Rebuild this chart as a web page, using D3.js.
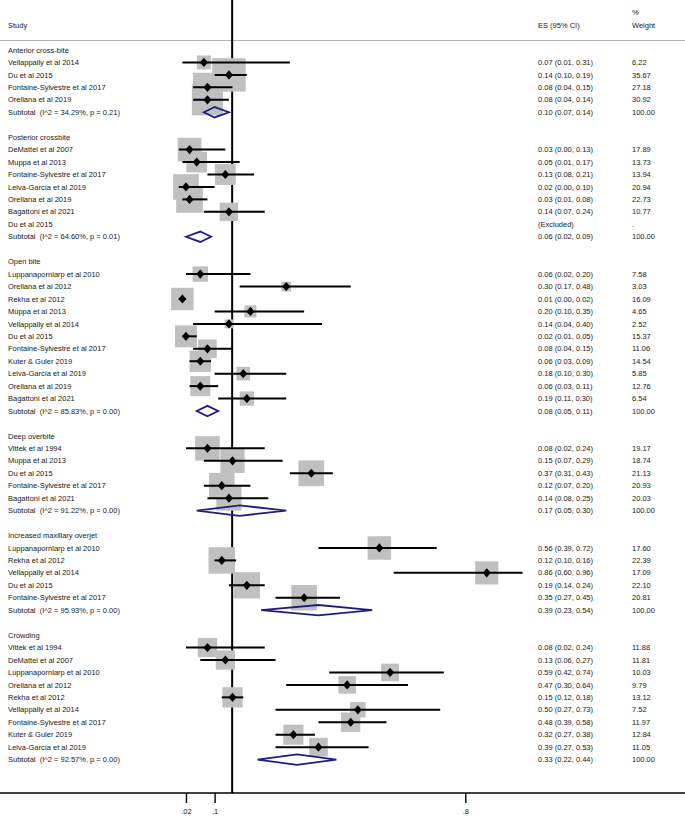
<!DOCTYPE html>
<html>
<head>
<meta charset="utf-8">
<script src="https://cdn.jsdelivr.net/npm/d3@7/dist/d3.min.js"></script>
<style>
  html, body { margin: 0; padding: 0; background: #fff; }
  svg { display: block; }
  text { font-family: "Liberation Sans", Arial, Helvetica, sans-serif; font-size: 7.5px; fill: #1a1a1a; }
</style>
</head>
<body>
<svg id="chart" width="685" height="817"></svg>
<script>
// ---------- DATA ----------
const groups = ["Anterior cross-bite", "Posterior crossbite", "Open bite", "Deep overbite", "Increased maxillary overjet", "Crowding"];

const studies = [
  "Vellappally et al 2014", "Du et al 2015", "Fontaine-Sylvestre et al 2017", "Orellana et al 2019",
  "DeMattei et al 2007", "Muppa et al 2013", "Fontaine-Sylvestre et al 2017", "Leiva-García et al 2019", "Orellana et al 2019", "Bagattoni et al 2021", "Du et al 2015",
  "Luppanapornlarp et al 2010", "Orellana et al 2012", "Rekha et al 2012", "Muppa et al 2013", "Vellappally et al 2014", "Du et al 2015", "Fontaine-Sylvestre et al 2017", "Kuter & Guler  2019", "Leiva-García et al 2019", "Orellana et al 2019", "Bagattoni et al 2021",
  "Vittek et al 1994", "Muppa et al 2013", "Du et al 2015", "Fontaine-Sylvestre et al 2017", "Bagattoni et al 2021",
  "Luppanapornlarp et al 2010", "Rekha et al 2012", "Vellappally et al 2014", "Du et al 2015", "Fontaine-Sylvestre et al 2017",
  "Vittek et al 1994", "DeMattei et al 2007", "Luppanapornlarp et al 2010", "Orellana et al 2012", "Rekha et al 2012", "Vellappally et al 2014", "Fontaine-Sylvestre et al 2017", "Kuter & Guler 2019", "Leiva-García et al 2019"
];
const studyGroup = [
  0,0,0,0,
  1,1,1,1,1,1,1,
  2,2,2,2,2,2,2,2,2,2,2,
  3,3,3,3,3,
  4,4,4,4,4,
  5,5,5,5,5,5,5,5,5
];
const es = [
  0.07, 0.14, 0.08, 0.08,
  0.03, 0.05, 0.13, 0.02, 0.03, 0.14, null,
  0.06, 0.30, 0.01, 0.20, 0.14, 0.02, 0.08, 0.06, 0.18, 0.06, 0.19,
  0.08, 0.15, 0.37, 0.12, 0.14,
  0.56, 0.12, 0.86, 0.19, 0.35,
  0.08, 0.13, 0.59, 0.47, 0.15, 0.50, 0.48, 0.32, 0.39
];
const ciLow = [
  0.01, 0.10, 0.04, 0.04,
  0.00, 0.01, 0.08, 0.00, 0.01, 0.07, null,
  0.02, 0.17, 0.00, 0.10, 0.04, 0.01, 0.04, 0.03, 0.10, 0.03, 0.11,
  0.02, 0.07, 0.31, 0.07, 0.08,
  0.39, 0.10, 0.60, 0.14, 0.27,
  0.02, 0.06, 0.42, 0.30, 0.12, 0.27, 0.39, 0.27, 0.27
];
const ciHigh = [
  0.31, 0.19, 0.15, 0.14,
  0.13, 0.17, 0.21, 0.10, 0.08, 0.24, null,
  0.20, 0.48, 0.02, 0.35, 0.40, 0.05, 0.15, 0.09, 0.30, 0.11, 0.30,
  0.24, 0.29, 0.43, 0.20, 0.25,
  0.72, 0.16, 0.96, 0.24, 0.45,
  0.24, 0.27, 0.74, 0.64, 0.18, 0.73, 0.58, 0.38, 0.53
];
const weight = [
  6.22, 35.67, 27.18, 30.92,
  17.89, 13.73, 13.94, 20.94, 22.73, 10.77, null,
  7.58, 3.03, 16.09, 4.65, 2.52, 15.37, 11.06, 14.54, 5.85, 12.76, 6.54,
  19.17, 18.74, 21.13, 20.93, 20.03,
  17.60, 22.39, 17.09, 22.10, 20.81,
  11.88, 11.81, 10.03, 9.79, 13.12, 7.52, 11.97, 12.84, 11.05
];

const subI2 = ["34.29", "64.60", "85.83", "91.22", "95.93", "92.57"];
const subP = ["0.21", "0.01", "0.00", "0.00", "0.00", "0.00"];
const subES = [0.10, 0.06, 0.08, 0.17, 0.39, 0.33];
const subLow = [0.07, 0.02, 0.05, 0.05, 0.23, 0.22];
const subHigh = [0.14, 0.09, 0.11, 0.30, 0.54, 0.44];
const subWeight = [100, 100, 100, 100, 100, 100];

const overallLine = 0.149;
const tickValues = [0.02, 0.1, 0.8];
const tickLabels = [".02", ".1", ".8"];

// ---------- LAYOUT ----------
const W = 685, H = 817;
const svg = d3.select("#chart");
const f2 = d3.format(".2f");

// build row list
const rows = [];
groups.forEach((g, gi) => {
  if (gi > 0) rows.push({ type: "blank" });
  rows.push({ type: "header", label: g });
  studies.forEach((s, i) => {
    if (studyGroup[i] === gi) rows.push({ type: "study", i });
  });
  rows.push({ type: "subtotal", gi });
});

const x = d3.scaleLinear().domain([0, 1]).range([178.8, 536.9]);
const y = d3.scalePoint().domain(d3.range(rows.length)).range([50, 759.6]);
const boxSide = d3.scaleSqrt().domain([0, 100]).range([0, 56]);

const colLabel = 8, colES = 538, colW = 632;
const axisY = 793;

// header
svg.append("text").attr("x", colLabel).attr("y", 25).attr("dy", "0.35em").text("Study");
svg.append("text").attr("x", colES).attr("y", 25).attr("dy", "0.35em").text("ES (95% CI)");
svg.append("text").attr("x", colW).attr("y", 12.5).attr("dy", "0.35em").text("%");
svg.append("text").attr("x", colW).attr("y", 25).attr("dy", "0.35em").text("Weight");
svg.append("line").attr("x1", 0).attr("x2", W).attr("y1", 40.5).attr("y2", 40.5)
  .attr("stroke", "#b4b4b4").attr("stroke-width", 1);

// vertical reference line (behind boxes)
svg.append("line").attr("x1", x(overallLine)).attr("x2", x(overallLine))
  .attr("y1", 0).attr("y2", axisY).attr("stroke", "#000").attr("stroke-width", 2);

const gMarks = svg.append("g");
const gText = svg.append("g");

rows.forEach((r, ri) => {
  const yy = y(ri);
  if (r.type === "header") {
    gText.append("text").attr("x", colLabel).attr("y", yy).attr("dy", "0.35em").text(r.label);
  } else if (r.type === "study") {
    const i = r.i;
    gText.append("text").attr("x", colLabel).attr("y", yy).attr("dy", "0.35em").text(studies[i]);
    if (es[i] === null) {
      gText.append("text").attr("x", colES).attr("y", yy).attr("dy", "0.35em").text("(Excluded)");
      gText.append("text").attr("x", colW).attr("y", yy).attr("dy", "0.35em").text(".");
      return;
    }
    gText.append("text").attr("x", colES).attr("y", yy).attr("dy", "0.35em")
      .text(`${f2(es[i])} (${f2(ciLow[i])}, ${f2(ciHigh[i])})`);
    gText.append("text").attr("x", colW).attr("y", yy).attr("dy", "0.35em").text(f2(weight[i]));
    const s = boxSide(weight[i]);
    gMarks.append("rect").attr("x", x(es[i]) - s / 2).attr("y", yy - s / 2)
      .attr("width", s).attr("height", s).attr("fill", "#c0c0c0");
    r.yy = yy;
  } else if (r.type === "subtotal") {
    const gi = r.gi;
    gText.append("text").attr("x", colLabel).attr("y", yy).attr("dy", "0.35em")
      .attr("xml:space", "preserve").style("white-space", "pre")
      .text(`Subtotal  (I^2 = ${subI2[gi]}%, p = ${subP[gi]})`);
    gText.append("text").attr("x", colES).attr("y", yy).attr("dy", "0.35em")
      .text(`${f2(subES[gi])} (${f2(subLow[gi])}, ${f2(subHigh[gi])})`);
    gText.append("text").attr("x", colW).attr("y", yy).attr("dy", "0.35em").text(f2(subWeight[gi]));
    r.yy = yy;
  }
});

// CI lines, point markers, diamonds on top of boxes
const gTop = svg.append("g");
rows.forEach(r => {
  if (r.type === "study" && es[r.i] !== null) {
    const i = r.i, yy = r.yy;
    gTop.append("line").attr("x1", x(ciLow[i])).attr("x2", x(ciHigh[i]))
      .attr("y1", yy).attr("y2", yy).attr("stroke", "#000").attr("stroke-width", 2);
    const cx = x(es[i]);
    gTop.append("path")
      .attr("d", `M${cx - 4},${yy} L${cx},${yy - 4.6} L${cx + 4},${yy} L${cx},${yy + 4.6} Z`)
      .attr("fill", "#000");
  } else if (r.type === "subtotal") {
    const gi = r.gi, yy = r.yy;
    const xl = x(subLow[gi]), xm = x(subES[gi]), xh = x(subHigh[gi]);
    gTop.append("path")
      .attr("d", `M${xl},${yy} L${xm},${yy - 5.2} L${xh},${yy} L${xm},${yy + 5.2} Z`)
      .attr("fill", "none").attr("stroke", "#1e1e82").attr("stroke-width", 1.8)
      .attr("stroke-linejoin", "miter");
  }
});

// bottom axis
svg.append("line").attr("x1", 0).attr("x2", W).attr("y1", axisY).attr("y2", axisY)
  .attr("stroke", "#000").attr("stroke-width", 1.4);
const axis = d3.axisBottom(x).tickValues(tickValues)
  .tickFormat((d, i) => tickLabels[i]).tickSize(10).tickPadding(6);
const gAxis = svg.append("g").attr("transform", `translate(0,${axisY})`).call(axis);
gAxis.select(".domain").remove();
gAxis.selectAll(".tick line").attr("stroke", "#000").attr("stroke-width", 1.4);
gAxis.selectAll(".tick text").attr("font-size", null).attr("font-family", null)
  .style("font-size", "7.5px").style("fill", "#1a1a1a");
</script>
</body>
</html>
